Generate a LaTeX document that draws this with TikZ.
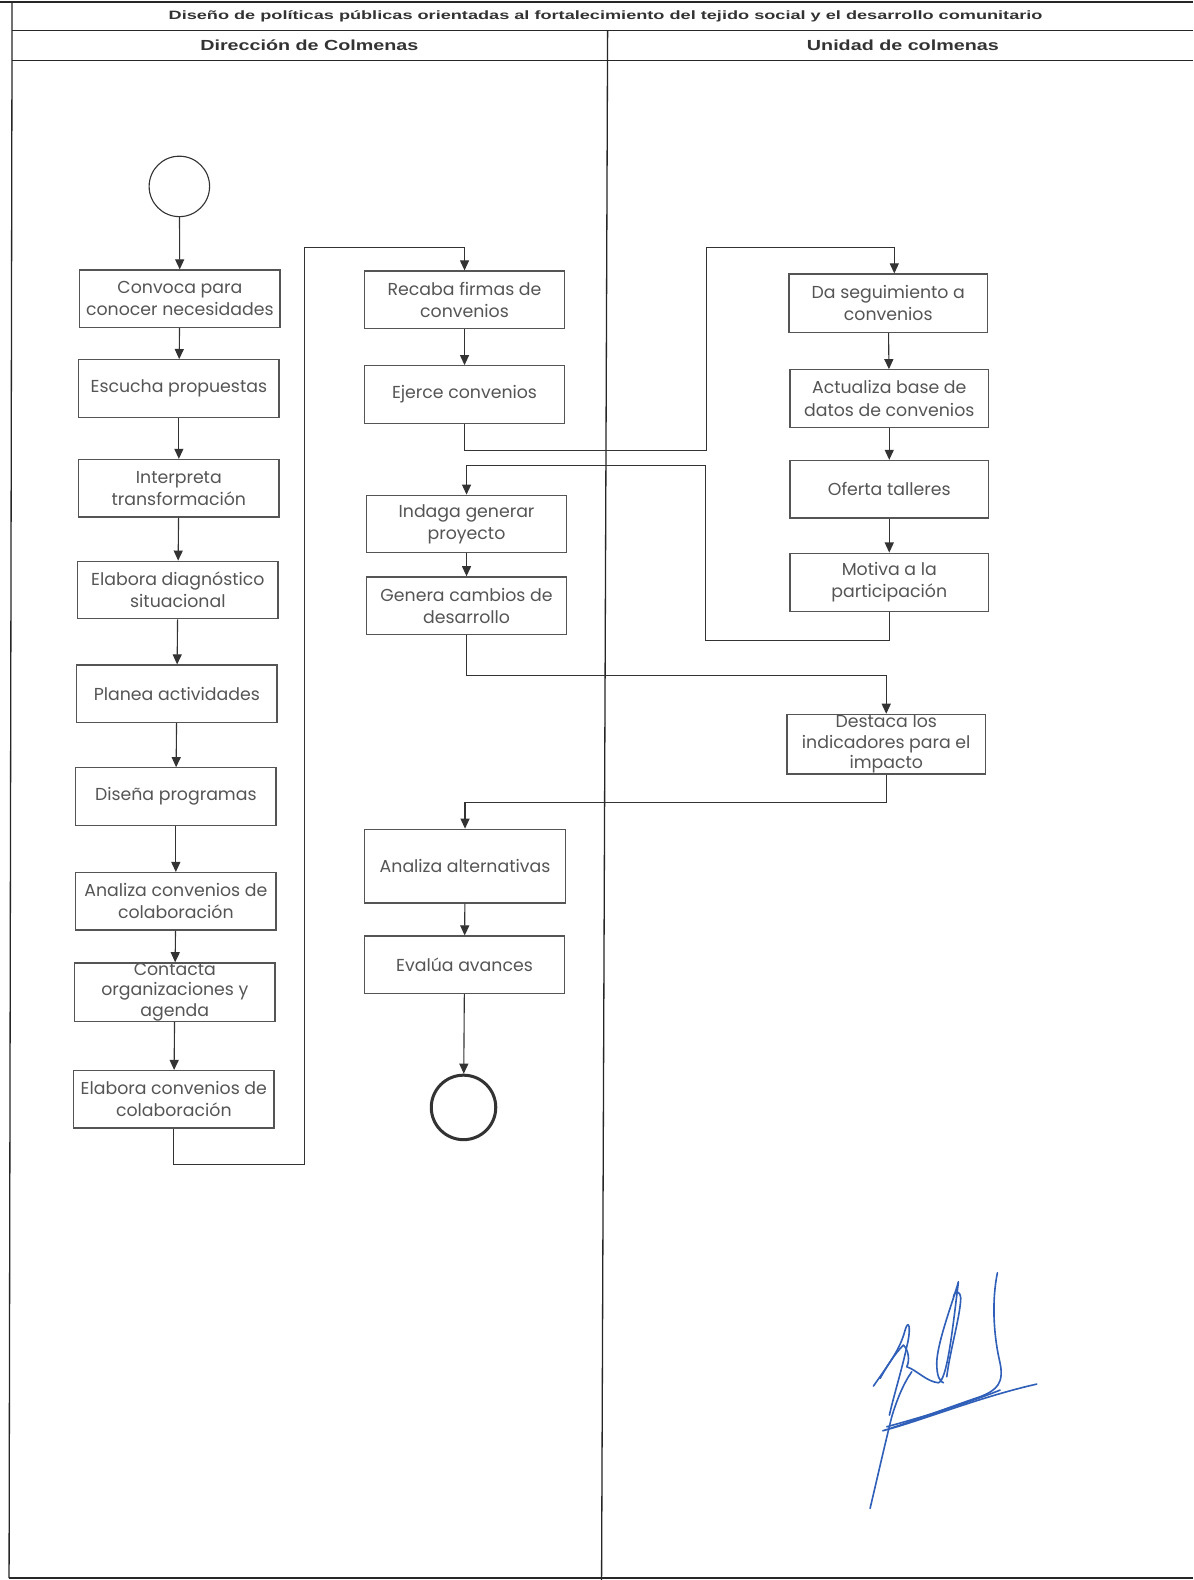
\documentclass[tikz,border=0pt]{standalone}
\usepackage{fontspec}
\setmainfont{Poppins}
\newfontfamily\titlefont{Liberation Sans Bold}[FakeStretch=1.50]
\newfontfamily\hdrfont{Liberation Sans Bold}[FakeStretch=1.35]
\usetikzlibrary{arrows.meta}
\definecolor{txt}{HTML}{555555}
\definecolor{edge}{HTML}{555555}
\definecolor{ink}{HTML}{2F5FB8}
\begin{document}
\begin{tikzpicture}[x=1pt,y=-1pt,
  box/.style={draw=edge, line width=1.3pt, minimum width=199pt, minimum height=57pt,
    inner sep=0pt, align=center, text=txt, font=\fontsize{17.2}{22}\selectfont},
  tight/.style={font=\fontsize{17.2}{20.5}\selectfont},
  conn/.style={draw=black!80, line width=1.1pt},
  arr/.style={conn, -{Triangle[length=10pt,width=9pt]}},
  lane/.style={draw=black!85, line width=1.3pt},
  term/.style={draw=black!80, circle, line width=1.1pt, minimum size=60pt, inner sep=0pt},
  sig/.style={draw=ink, line width=1.6pt, line cap=round, line join=round}]
\path[use as bounding box] (0,0) rectangle (1184,1568);
\fill[white] (0,0) rectangle (1184,1568);

% frame
\draw[lane] (0,2) -- (1184,2);
\draw[lane] (12,2) -- (9,1566);
\draw[lane] (12,30) -- (1184,30);
\draw[lane] (12,60) -- (1184,60);
\draw[lane] (603,30) -- (597,1568);
\draw[lane] (9,1566) -- (1184,1566);
\node[font=\titlefont\fontsize{12}{14}\selectfont, text=black!80] (title) at (601,16)
  {Diseño de políticas públicas orientadas al fortalecimiento del tejido social y el desarrollo comunitario};
\node[font=\hdrfont\fontsize{14.5}{16}\selectfont, text=black!80] (lane1) at (307,45) {Dirección de Colmenas};
\node[font=\hdrfont\fontsize{14.5}{16}\selectfont, text=black!80] (lane2) at (896,45) {Unidad de colmenas};

% left column
\node[term] (start) at (178,185) {};
\node[box] (n1) at (178.5,296.5) {Convoca para\\conocer necesidades};
\node[box] (n2) at (177.5,385.5) {Escucha propuestas};
\node[box] (n3) at (177.5,484.5) {Interpreta\\transformación};
\node[box] (n4) at (176.5,585.5) {Elabora diagnóstico\\situacional};
\node[box] (n5) at (175.5,688.5) {Planea actividades};
\node[box] (n6) at (174.5,790.5) {Diseña programas};
\node[box] (n7) at (174.5,894.5) {Analiza convenios de\\colaboración};
\node[box, tight] (n8) at (173.5,984.5) {Contacta\\organizaciones y\\agenda};
\node[box] (n9) at (172.5,1091) {Elabora convenios de\\colaboración};

% middle column
\node[box] (m1) at (461,297.5) {Recaba firmas de\\convenios};
\node[box] (m2) at (461,391.5) {Ejerce convenios};
\node[box] (m3) at (463,520) {Indaga generar\\proyecto};
\node[box] (m4) at (463,601) {Genera cambios de\\desarrollo};
\node[box, minimum height=73pt] (m5) at (461.5,859.5) {Analiza alternativas};
\node[box] (m6) at (461,957.5) {Evalúa avances};
\node[term, line width=3pt, minimum size=64pt] (end) at (460,1099) {};

% right column
\node[box, minimum width=197pt, minimum height=58pt] (r1) at (881.5,301) {Da seguimiento a\\convenios};
\node[box, minimum width=197pt] (r2) at (882.5,395.5) {Actualiza base de\\datos de convenios};
\node[box, minimum width=197pt] (r3) at (882.5,485.5) {Oferta talleres};
\node[box, minimum width=197pt, minimum height=58pt] (r4) at (882.5,578) {Motiva a la\\participación};
\node[box, tight, minimum width=197pt, minimum height=59pt] (r5) at (879.5,738.5) {Destaca los\\indicadores para el\\impacto};

% connectors
\coordinate (c1) at (302,1156);
\coordinate (c2) at (302,246);
\coordinate (c3) at (701,447);
\coordinate (c4) at (701,246);
\coordinate (c5) at (700,636);
\coordinate (c6) at (700,462);

\draw[arr] (start) -- (n1);
\draw[arr] (n1) -- (n2);
\draw[arr] (n2) -- (n3);
\draw[arr] (n3) -- (n4);
\draw[arr] (n4) -- (n5);
\draw[arr] (n5) -- (n6);
\draw[arr] (n6) -- (n7);
\draw[arr] (n7) -- (n8);
\draw[arr] (n8) -- (n9);
\draw[arr] (n9.south) |- (c1) -- (c2) -| (m1.north);
\draw[arr] (m1) -- (m2);
\draw[arr] (m2.south) |- (c3) -- (c4) -| ([xshift=6pt]r1.north);
\draw[arr] (r1) -- (r2);
\draw[arr] (r2) -- (r3);
\draw[arr] (r3) -- (r4);
\draw[arr] (r4.south) |- (c5) -- (c6) -| (m3.north);
\draw[arr] (m3) -- (m4);
\draw[arr] (m4.south) -- ++(0,40) -| (r5.north);
\draw[arr] (r5.south) -- ++(0,28) -| (m5.north);
\draw[arr] (m5) -- (m6);
\draw[arr] (m6) -- (end);

% signature
\begin{scope}[shift={(833.7,1240.6)}, scale=0.3308]
  \draw[sig] (100,408) .. controls (140,350) and (180,300) .. (195,240)
     .. controls (205,205) and (215,230) .. (200,290)
     .. controls (185,360) and (160,440) .. (148,495);
  \draw[sig] (120,385) .. controls (150,330) and (175,300) .. (190,285)
     .. controls (205,300) and (210,330) .. (200,350)
     .. controls (230,360) and (260,395) .. (295,398)
     .. controls (320,390) and (335,260) .. (355,95)
     .. controls (340,150) and (290,280) .. (290,340)
     .. controls (290,380) and (300,395) .. (310,398);
  \draw[sig] (340,140) .. controls (345,120) and (360,120) .. (362,145)
     .. controls (360,200) and (330,300) .. (320,380);
  \draw[sig] (472,68) .. controls (455,150) and (460,250) .. (478,330)
     .. controls (495,400) and (470,420) .. (420,440)
     .. controls (330,470) and (200,520) .. (128,542)
     .. controls (250,510) and (420,440) .. (590,402);
  \draw[sig] (90,775) .. controls (110,690) and (135,580) .. (155,500)
     .. controls (170,450) and (190,400) .. (215,365);
  \draw[sig] (140,530) .. controls (250,500) and (380,460) .. (480,420);
\end{scope}
\end{tikzpicture}
\end{document}
